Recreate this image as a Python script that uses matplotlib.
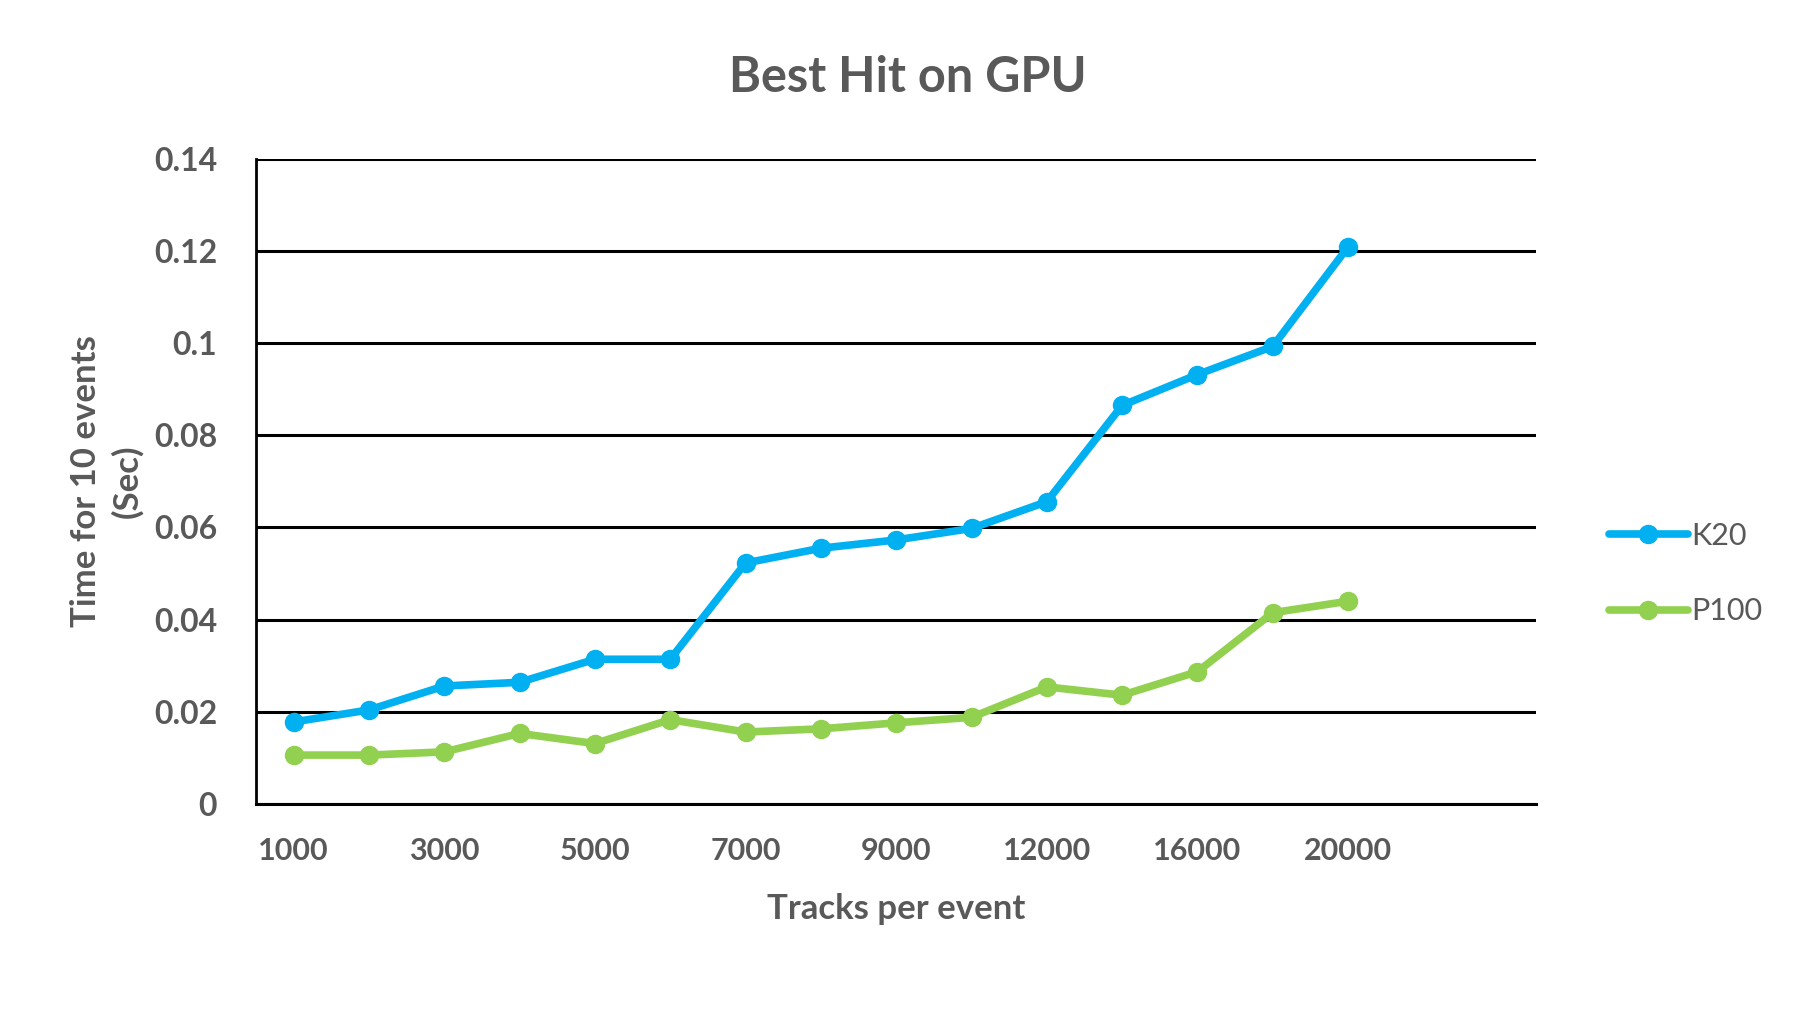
import matplotlib
matplotlib.use("Agg")
from matplotlib import pyplot as plt
import numpy as np

# categories (the last two are empty slots on the axis)
tracks = ["1000", "2000", "3000", "4000", "5000", "6000", "7000", "8000", "9000",
          "10000", "12000", "14000", "16000", "18000", "20000", "", ""]
k20 = [0.0178, 0.0204, 0.0256, 0.0264, 0.0314, 0.0314, 0.0523, 0.0555, 0.0573,
       0.0598, 0.0656, 0.0865, 0.0932, 0.0993, 0.1209]
p100 = [0.0106, 0.0106, 0.0113, 0.0153, 0.0131, 0.0183, 0.0156, 0.0163, 0.0176,
        0.0188, 0.0254, 0.0236, 0.0287, 0.0415, 0.0440]
y_ticks = [0, 0.02, 0.04, 0.06, 0.08, 0.1, 0.12, 0.14]
y_tick_labels = ["0", "0.02", "0.04", "0.06", "0.08", "0.1", "0.12", "0.14"]

grey = "#595959"
plt.rcParams["font.family"] = ["Lato", "DejaVu Sans"]

fig = plt.figure(figsize=(18.16, 10.32), dpi=100)
ax = fig.add_axes([0.141, 0.221, 0.705, 0.625])

x = np.arange(len(k20))
ax.plot(x, k20, color="#00B0F0", lw=5.5, marker="o", ms=13, label="K20",
        solid_capstyle="round", zorder=3)
ax.plot(x, p100, color="#92D050", lw=5.5, marker="o", ms=13, label="P100",
        solid_capstyle="round", zorder=3)

ax.set_xlim(-0.5, len(tracks) - 0.5)
ax.set_ylim(0, 0.14)
ax.set_yticks(y_ticks)
ax.set_yticklabels(y_tick_labels)
ax.set_xticks(np.arange(0, len(tracks), 2))
ax.set_xticklabels(tracks[::2])

ax.grid(axis="y", color="black", lw=2.2)
ax.set_axisbelow(True)
for s in ["top", "right"]:
    ax.spines[s].set_visible(False)
ax.spines["left"].set_linewidth(2)
ax.spines["bottom"].set_linewidth(2.2)
ax.tick_params(length=0, labelcolor=grey)
ax.tick_params(axis="y", labelsize=23, pad=28)
ax.tick_params(axis="x", labelsize=22, pad=24)
for lab in ax.get_xticklabels() + ax.get_yticklabels():
    lab.set_fontweight("bold")

ax.set_xlabel("Tracks per event", fontsize=25, fontweight="bold", color=grey, labelpad=20)
ax.set_ylabel("Time for 10 events\n(Sec)", fontsize=25, fontweight="bold", color=grey,
              labelpad=8, linespacing=1.3)
fig.text(0.5, 0.925, "Best Hit on GPU", ha="center", va="center", fontsize=35,
         fontweight="bold", color=grey)

ax.legend(loc="center left", bbox_to_anchor=(1.035, 0.357), frameon=False, fontsize=22,
          labelcolor=grey, handlelength=2.6, handletextpad=0.1, labelspacing=1.55)

fig.savefig("out.png", dpi=100)
